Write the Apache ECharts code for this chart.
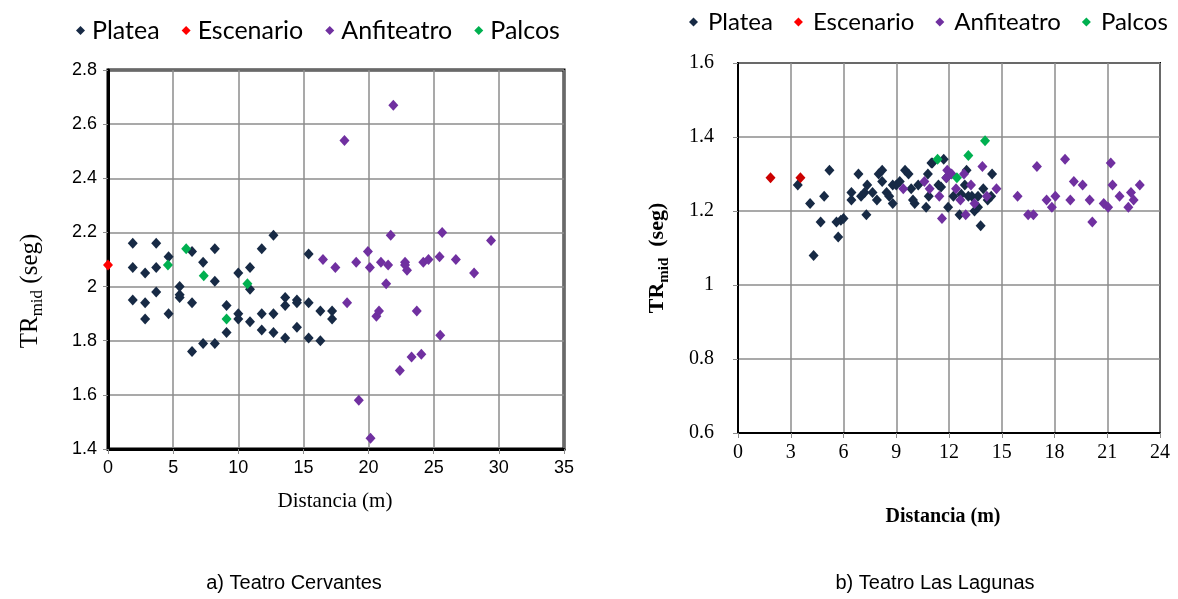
<!DOCTYPE html>
<html><head><meta charset="utf-8">
<script src="https://cdn.jsdelivr.net/npm/echarts@6/dist/echarts.min.js"></script>
<style>html,body{margin:0;padding:0;background:#fff}#c{width:1178px;height:599px}</style>
</head><body><div id="c"></div>
<script>
// ---- Teatro Cervantes (left) ----
const cervPlatea = [[1.9,2.16],[3.7,2.16],[4.65,2.11],[1.9,2.07],[2.85,2.05],[3.7,2.07],[6.45,2.13],[8.2,2.14],[7.3,2.09],[8.2,2.02],[5.5,2.00],[5.5,1.97],[5.5,1.96],[3.7,1.98],[1.9,1.95],[2.85,1.94],[2.85,1.88],[4.65,1.90],[6.45,1.94],[6.45,1.76],[7.3,1.79],[8.2,1.79],[9.1,1.93],[9.1,1.83],[10.0,2.05],[10.0,1.90],[10.0,1.88],[10.9,2.07],[10.9,1.99],[10.9,1.87],[11.8,2.14],[12.7,2.19],[11.8,1.90],[12.7,1.90],[11.8,1.84],[12.7,1.83],[13.6,1.96],[13.6,1.93],[13.6,1.81],[14.5,1.95],[14.5,1.94],[14.5,1.85],[15.4,2.12],[15.4,1.94],[15.4,1.81],[16.3,1.91],[16.3,1.80],[17.2,1.91],[17.2,1.88]];
const cervEscenario = [[0,2.08]];
const cervAnfiteatro = [[16.5,2.10],[17.45,2.07],[18.15,2.54],[18.35,1.94],[19.05,2.09],[19.25,1.58],[19.95,2.13],[20.1,2.07],[20.15,1.44],[20.6,1.89],[20.8,1.91],[20.95,2.09],[21.35,2.01],[21.5,2.08],[21.7,2.19],[21.9,2.67],[22.4,1.69],[22.8,2.09],[22.8,2.08],[22.95,2.06],[23.3,1.74],[23.7,1.91],[24.05,1.75],[24.2,2.09],[24.6,2.10],[25.45,2.11],[25.5,1.82],[25.65,2.20],[26.7,2.10],[28.1,2.05],[29.4,2.17]];
const cervPalcos = [[4.6,2.08],[6.0,2.14],[7.35,2.04],[9.1,1.88],[10.7,2.01]];

// ---- Teatro Las Lagunas (right) ----
const lagPlatea = [[3.4,1.27],[4.1,1.22],[4.9,1.24],[5.2,1.31],[4.7,1.17],[4.3,1.08],[5.7,1.13],[5.6,1.17],[5.85,1.175],[6.0,1.18],[6.45,1.25],[6.45,1.23],[6.85,1.30],[7.0,1.24],[7.2,1.25],[7.35,1.27],[7.3,1.19],[7.65,1.25],[7.9,1.23],[8.0,1.30],[8.2,1.31],[8.2,1.28],[8.45,1.25],[8.6,1.24],[8.8,1.22],[8.8,1.27],[9.0,1.27],[9.2,1.28],[9.5,1.31],[9.7,1.30],[9.85,1.26],[10.05,1.22],[9.95,1.23],[10.25,1.27],[10.7,1.21],[10.8,1.30],[11.0,1.33],[10.85,1.24],[11.05,1.33],[11.4,1.27],[11.55,1.265],[11.7,1.34],[11.85,1.29],[11.95,1.21],[12.25,1.24],[12.6,1.19],[12.7,1.245],[12.9,1.27],[13.0,1.31],[13.1,1.24],[13.3,1.24],[13.45,1.20],[13.65,1.21],[13.65,1.24],[13.8,1.16],[13.95,1.26],[14.2,1.23],[14.4,1.24],[14.45,1.30]];
const lagEscenario = [[1.85,1.29],[3.55,1.29]];
const lagAnfiteatro = [[9.4,1.26],[10.6,1.28],[10.9,1.26],[11.45,1.24],[11.6,1.18],[11.9,1.31],[11.85,1.29],[12.15,1.30],[12.4,1.26],[12.65,1.23],[12.85,1.30],[12.95,1.19],[13.25,1.27],[13.45,1.22],[13.9,1.32],[14.15,1.24],[14.7,1.26],[15.9,1.24],[16.5,1.19],[16.8,1.19],[17.0,1.32],[17.55,1.23],[17.85,1.21],[18.05,1.24],[18.6,1.34],[18.9,1.23],[19.1,1.28],[19.6,1.27],[20.0,1.23],[20.15,1.17],[20.8,1.22],[21.05,1.21],[21.2,1.33],[21.3,1.27],[21.7,1.24],[22.2,1.21],[22.35,1.25],[22.5,1.23],[22.85,1.27]];
const lagPalcos = [[11.35,1.34],[12.45,1.29],[13.1,1.35],[14.05,1.39]];

const seriesNames = ['Platea','Escenario','Anfiteatro','Palcos'];
const captions = ['a) Teatro Cervantes','b) Teatro Las Lagunas'];

const colPlatea = '#172a45', colEsc = '#ff0000', colEsc2 = '#cc0000', colAnf = '#7030a0', colPal = '#00b050';

function sc(name, data, color, idx) {
  return { name: name, type: 'scatter', xAxisIndex: idx, yAxisIndex: idx, data: data,
    symbol: 'diamond', symbolSize: [10, 11], itemStyle: { color: color, opacity: 1 },
    emphasis: { disabled: true }, z: 3 };
}

const gridLine = { show: true, lineStyle: { color: '#8c8c8c', width: 1.5 } };

const chart = echarts.init(document.getElementById('c'), null, { renderer: 'canvas' });
chart.setOption({
  animation: false,
  backgroundColor: '#fff',
  legend: [
    { data: seriesNames, left: 71, top: 13, icon: 'diamond', itemWidth: 9, itemHeight: 9, itemGap: 22,
      textStyle: { fontFamily: 'Lato', fontSize: 25, color: '#000', padding: [0,0,0,2] }, selectedMode: false },
    { data: seriesNames, left: 684, top: 5, icon: 'diamond', itemWidth: 9, itemHeight: 9, itemGap: 21,
      textStyle: { fontFamily: 'Lato', fontSize: 24, color: '#000', padding: [0,0,0,5] }, selectedMode: false }
  ],
  grid: [
    { left: 108, top: 70, width: 456, height: 379, show: true, borderColor: '#000', borderWidth: 3, backgroundColor: '#fff' },
    { left: 738, top: 63, width: 422, height: 370, show: true, borderColor: '#000', borderWidth: 2, backgroundColor: '#fff' }
  ],
  xAxis: [
    { gridIndex: 0, type: 'value', min: 0, max: 35, interval: 5,
      axisLine: { show: true, onZero: false, lineStyle: { color: '#000', width: 3 } },
      axisTick: { show: true, length: 5, lineStyle: { color: '#8c8c8c' } },
      axisLabel: { fontFamily: 'Liberation Sans', fontSize: 18, color: '#000', margin: 10 },
      splitLine: gridLine },
    { gridIndex: 1, type: 'value', min: 0, max: 24, interval: 3,
      axisLine: { show: true, onZero: false, lineStyle: { color: '#000', width: 2 } },
      axisTick: { show: true, length: 5, lineStyle: { color: '#8c8c8c' } },
      axisLabel: { fontFamily: 'Liberation Serif', fontSize: 20, color: '#000', margin: 10 },
      splitLine: gridLine }
  ],
  yAxis: [
    { gridIndex: 0, type: 'value', min: 1.4, max: 2.8, interval: 0.2,
      axisLine: { show: true, onZero: false, lineStyle: { color: '#000', width: 3 } },
      axisTick: { show: true, length: 5, lineStyle: { color: '#8c8c8c' } },
      axisLabel: { fontFamily: 'Liberation Sans', fontSize: 18, color: '#000', margin: 11,
        formatter: v => String(Math.round(v * 10) / 10) },
      splitLine: gridLine },
    { gridIndex: 1, type: 'value', min: 0.6, max: 1.6, interval: 0.2,
      axisLine: { show: true, onZero: false, lineStyle: { color: '#000', width: 2 } },
      axisTick: { show: true, length: 5, lineStyle: { color: '#8c8c8c' } },
      axisLabel: { fontFamily: 'Liberation Serif', fontSize: 20, color: '#000', margin: 24,
        formatter: v => String(Math.round(v * 10) / 10) },
      splitLine: gridLine }
  ],
  series: [
    sc('Platea', cervPlatea, colPlatea, 0),
    sc('Escenario', cervEscenario, colEsc, 0),
    sc('Anfiteatro', cervAnfiteatro, colAnf, 0),
    sc('Palcos', cervPalcos, colPal, 0),
    sc('Platea', lagPlatea, colPlatea, 1),
    sc('Escenario', lagEscenario, colEsc2, 1),
    sc('Anfiteatro', lagAnfiteatro, colAnf, 1),
    sc('Palcos', lagPalcos, colPal, 1)
  ],
  graphic: [
    { type: 'text', x: 335, y: 501, style: { text: 'Distancia (m)', font: '21px "Liberation Serif"', fill: '#000', align: 'center', verticalAlign: 'middle' } },
    { type: 'text', x: 943, y: 517, style: { text: 'Distancia (m)', font: 'bold 20px "Liberation Serif"', fill: '#000', align: 'center', verticalAlign: 'middle' } },
    { type: 'text', x: 30, y: 291, rotation: Math.PI / 2,
      style: { text: '{a|TR}{b|mid}{a| (seg)}', align: 'center', verticalAlign: 'middle', fill: '#000',
        rich: { a: { fontFamily: 'Liberation Serif', fontSize: 25, verticalAlign: 'bottom' },
                b: { fontFamily: 'Liberation Serif', fontSize: 17, verticalAlign: 'bottom', padding: [0,0,-4,0] } } } },
    { type: 'text', x: 657, y: 258, rotation: Math.PI / 2,
      style: { text: '{a|TR}{b|mid}{a|  (seg)}', align: 'center', verticalAlign: 'middle', fill: '#000',
        rich: { a: { fontFamily: 'Liberation Serif', fontWeight: 'bold', fontSize: 22, verticalAlign: 'bottom' },
                b: { fontFamily: 'Liberation Serif', fontWeight: 'bold', fontSize: 15, verticalAlign: 'bottom', padding: [0,0,-4,0] } } } },
    { type: 'text', x: 294, y: 583, style: { text: captions[0], font: '20px "Liberation Sans"', fill: '#000', align: 'center', verticalAlign: 'middle' } },
    { type: 'text', x: 935, y: 583, style: { text: captions[1], font: '20px "Liberation Sans"', fill: '#000', align: 'center', verticalAlign: 'middle' } }
  ]
});
</script>
</body></html>
